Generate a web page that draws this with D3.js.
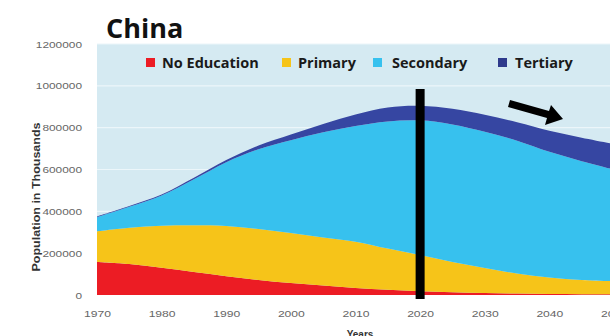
<!DOCTYPE html>
<html>
<head>
<meta charset="utf-8">
<script src="https://cdn.jsdelivr.net/npm/d3@7"></script>
<style>
  body { margin: 0; background: #fff; }
  svg { display: block; }
  .tick text { fill: #666; font-family: Arial, "Liberation Sans", sans-serif; font-size: 9.5px; }
</style>
</head>
<body>
<div id="chart"></div>
<script>
// data (population in thousands, thickness of each layer)
var years      = [1970, 1975, 1980, 1985, 1990, 1995, 2000, 2005, 2010, 2015, 2020, 2025, 2030, 2035, 2040, 2045, 2050];
var noEducation = [158000, 148000, 130000, 110000, 90000, 72000, 57000, 45000, 33000, 25000, 18000, 13000, 9000, 7000, 5000, 4000, 3000];
var primary     = [147000, 174000, 201000, 223000, 240000, 243000, 239000, 230000, 222000, 197000, 173000, 145000, 120000, 96000, 79000, 68000, 63000];
var secondary   = [67000, 100000, 145000, 220000, 305000, 382000, 444000, 503000, 553000, 608000, 644000, 657000, 651000, 635000, 601000, 568000, 534000];
var tertiary    = [3000, 3000, 4000, 7000, 10000, 18000, 27000, 40000, 55000, 67000, 70000, 75000, 82000, 88000, 100000, 112000, 122000];
var seriesNames = ["No Education", "Primary", "Secondary", "Tertiary"];
var yTicks = [0, 200000, 400000, 600000, 800000, 1000000, 1200000];
var xTicks = [1970, 1980, 1990, 2000, 2010, 2020, 2030, 2040, 2050];
var markYear = 2020;

var colors = ["#ec1c24", "#f6c419", "#37c1ee", "#3646a2"];
var legendColors = ["#ec1c24", "#f6c419", "#37c1ee", "#2e3a8c"];

var width = 610, height = 336;
var margin = {top: 44, right: 614, bottom: 295, left: 97};

var svg = d3.select("#chart")
    .append("svg")
        .attr("width", width)
        .attr("height", height);

var x = d3.scaleLinear()
        .domain([1970, 2050])
        .range([margin.left, margin.right]);

var y = d3.scaleLinear()
        .domain([0, 1200000])
        .range([margin.bottom, margin.top]);

// plot background
svg.append("rect")
    .attr("x", x(1970))
    .attr("y", y(1200000))
    .attr("width", width - x(1970))
    .attr("height", y(0) - y(1200000))
    .attr("fill", "#d5eaf2");

// gridlines
svg.append("g")
    .selectAll("line")
    .data(yTicks.slice(1))
    .enter().append("line")
      .attr("x1", x(1970))
      .attr("x2", width)
      .attr("y1", function(d) { return y(d); })
      .attr("y2", function(d) { return y(d); })
      .attr("stroke", "#ecf6fa")
      .attr("stroke-width", 1.2);

var rows = years.map(function(yr, i) {
    return { year: yr, "No Education": noEducation[i], "Primary": primary[i], "Secondary": secondary[i], "Tertiary": tertiary[i] };
});

var stacked = d3.stack().keys(seriesNames)(rows);

var area = d3.area()
    .curve(d3.curveCatmullRom.alpha(0.5))
    .x(function(d) { return x(d.data.year); })
    .y0(function(d) { return y(d[0]); })
    .y1(function(d) { return y(d[1]); });

svg.append("g")
    .selectAll("path")
    .data(stacked)
    .enter().append("path")
      .attr("d", area)
      .attr("fill", function(d, i) { return colors[i]; });

// axes
var yAxis = svg.append("g")
    .attr("transform", "translate(" + (margin.left - 12) + ",0)")
    .call(d3.axisLeft(y).tickValues(yTicks).tickSize(0).tickFormat(d3.format("d")));
yAxis.select(".domain").remove();
yAxis.selectAll("text")
    .attr("textLength", function(d) { return String(d).length * 6.6; })
    .attr("lengthAdjust", "spacingAndGlyphs");

var xAxis = svg.append("g")
    .attr("transform", "translate(0," + (margin.bottom + 12) + ")")
    .call(d3.axisBottom(x).tickValues(xTicks).tickSize(0).tickFormat(d3.format("d")));
xAxis.select(".domain").remove();
xAxis.selectAll("text")
    .attr("textLength", 27)
    .attr("lengthAdjust", "spacingAndGlyphs");

svg.append("text")
    .attr("transform", "translate(40,197) rotate(-90)")
    .attr("text-anchor", "middle")
    .style("font-family", "Arial, 'Liberation Sans', sans-serif")
    .style("font-weight", "bold")
    .style("font-size", "10px")
    .attr("fill", "#333")
    .attr("textLength", 149)
    .attr("lengthAdjust", "spacingAndGlyphs")
    .text("Population in Thousands");

svg.append("text")
    .attr("x", 360)
    .attr("y", 338)
    .attr("text-anchor", "middle")
    .style("font-family", "Arial, 'Liberation Sans', sans-serif")
    .style("font-weight", "bold")
    .style("font-size", "10px")
    .attr("fill", "#333")
    .text("Years");

// title
svg.append("text")
    .attr("x", 106)
    .attr("y", 38)
    .style("font-family", "'Open Sans', sans-serif")
    .style("font-weight", "bold")
    .style("font-size", "27px")
    .attr("fill", "#111")
    .text("China");

// legend
var legendX = [146, 282, 373, 498];
var legend = svg.append("g")
    .selectAll("g")
    .data(seriesNames)
    .enter().append("g")
      .attr("transform", function(d, i) { return "translate(" + legendX[i] + ",58)"; });
legend.append("rect")
    .attr("width", 9)
    .attr("height", 9)
    .attr("fill", function(d, i) { return legendColors[i]; });
legend.append("text")
    .attr("x", function(d, i) { return i == 3 ? 17 : (i == 2 ? 19 : 16); })
    .attr("y", 10)
    .style("font-family", "'Open Sans', sans-serif")
    .style("font-weight", "bold")
    .style("font-size", "14.5px")
    .attr("fill", "#1a1a1a")
    .text(function(d) { return d; });

// 2020 marker
svg.append("line")
    .attr("x1", x(markYear))
    .attr("x2", x(markYear))
    .attr("y1", 89)
    .attr("y2", margin.bottom + 4)
    .attr("stroke", "#000")
    .attr("stroke-width", 9);

// trend arrow
svg.append("path")
    .attr("d", "M510,100 L549,111 L551,105 L563,119 L545,125 L547,118 L508,107 Z")
    .attr("fill", "#000");
</script>
</body>
</html>
